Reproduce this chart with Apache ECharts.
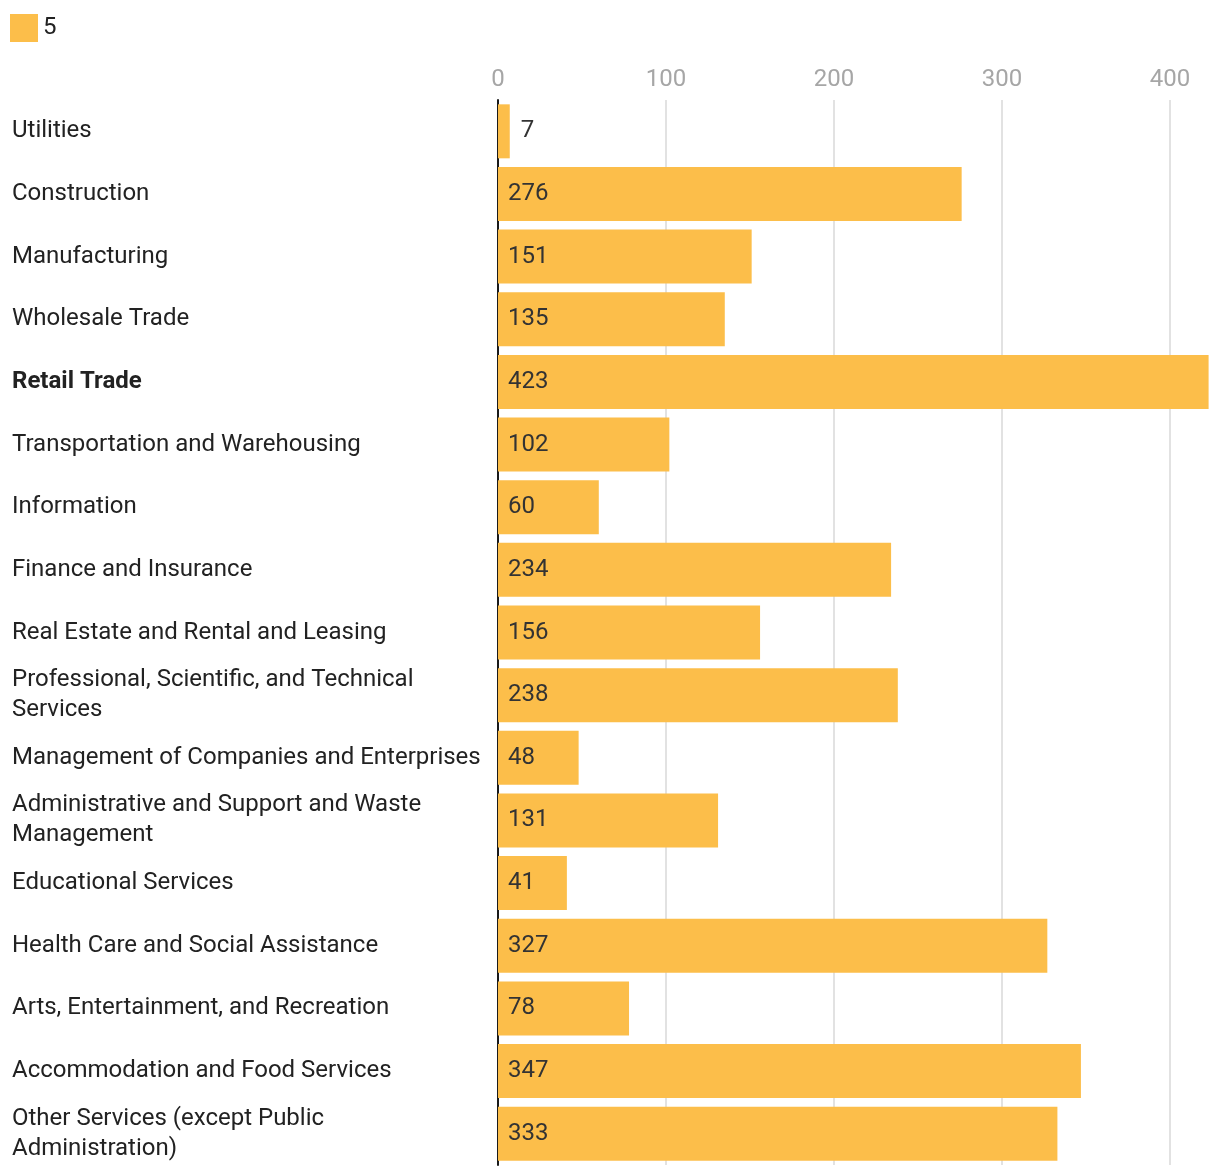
<!DOCTYPE html>
<html>
<head>
<meta charset="utf-8">
<script src="https://cdn.jsdelivr.net/npm/echarts@6/dist/echarts.min.js"></script>
<style>
html,body{margin:0;padding:0;background:#fff;}
#chart{width:1220px;height:1172px;}
</style>
</head>
<body>
<div id="chart"></div>
<script>
const categories = [
  "Utilities",
  "Construction",
  "Manufacturing",
  "Wholesale Trade",
  "Retail Trade",
  "Transportation and Warehousing",
  "Information",
  "Finance and Insurance",
  "Real Estate and Rental and Leasing",
  "Professional, Scientific, and Technical Services",
  "Management of Companies and Enterprises",
  "Administrative and Support and Waste Management",
  "Educational Services",
  "Health Care and Social Assistance",
  "Arts, Entertainment, and Recreation",
  "Accommodation and Food Services",
  "Other Services (except Public Administration)"
];
const values = [7, 276, 151, 135, 423, 102, 60, 234, 156, 238, 48, 131, 41, 327, 78, 347, 333];
const seriesName = "5";
const highlighted = "Retail Trade";
const tickValues = [0, 100, 200, 300, 400];

const chart = echarts.init(document.getElementById('chart'), null, {renderer: 'canvas'});
const FONT = 'Roboto, "Noto Sans", sans-serif';
const barColor = '#fcbe4a';

const catLabelStyle = {
  align: 'left',
  fontSize: 24,
  color: '#222',
  fontFamily: FONT,
  width: 476,
  overflow: 'break',
  lineHeight: 30
};

const yData = categories.map(c => c === highlighted
  ? {value: c, textStyle: Object.assign({}, catLabelStyle, {fontWeight: 'bold'})}
  : c);

const barData = values.map(v => {
  const small = v < 30;
  return {
    value: v,
    label: small
      ? {position: 'right', distance: 11}
      : {position: 'insideLeft', distance: 10}
  };
});

chart.setOption({
  animation: false,
  backgroundColor: '#fff',
  textStyle: {fontFamily: FONT},
  legend: {
    show: true,
    left: 10,
    top: 14,
    padding: 0,
    itemWidth: 28,
    itemHeight: 28,
    itemGap: 10,
    icon: 'rect',
    textStyle: {fontSize: 24, color: '#222', fontFamily: FONT},
    data: [seriesName]
  },
  grid: {
    left: 498,
    top: 100,
    height: 1065,
    right: 11.4,
    containLabel: false,
    outerBoundsMode: 'none'
  },
  xAxis: {
    type: 'value',
    position: 'top',
    min: 0,
    max: Math.max.apply(null, values),
    interval: 100,
    axisLine: {show: false},
    axisTick: {show: false},
    axisLabel: {
      fontSize: 24,
      color: '#a6a6a6',
      fontFamily: FONT,
      margin: 8,
      showMaxLabel: false,
      formatter: v => tickValues.indexOf(v) >= 0 ? String(v) : ''
    },
    splitLine: {
      show: true,
      showMaxLine: false,
      lineStyle: {color: '#e2e2e2', width: 2}
    }
  },
  yAxis: {
    type: 'category',
    inverse: true,
    data: yData,
    axisLine: {show: true, lineStyle: {color: '#1a1a1a', width: 2}},
    axisTick: {show: false},
    splitLine: {show: false},
    axisLabel: Object.assign({margin: 486, padding: [3, 0, 0, 0]}, catLabelStyle)
  },
  series: [{
    name: seriesName,
    type: 'bar',
    data: barData,
    barWidth: 54,
    itemStyle: {color: barColor},
    label: {
      show: true,
      fontSize: 24,
      color: '#333',
      fontFamily: FONT
    }
  }]
});
</script>
</body>
</html>
